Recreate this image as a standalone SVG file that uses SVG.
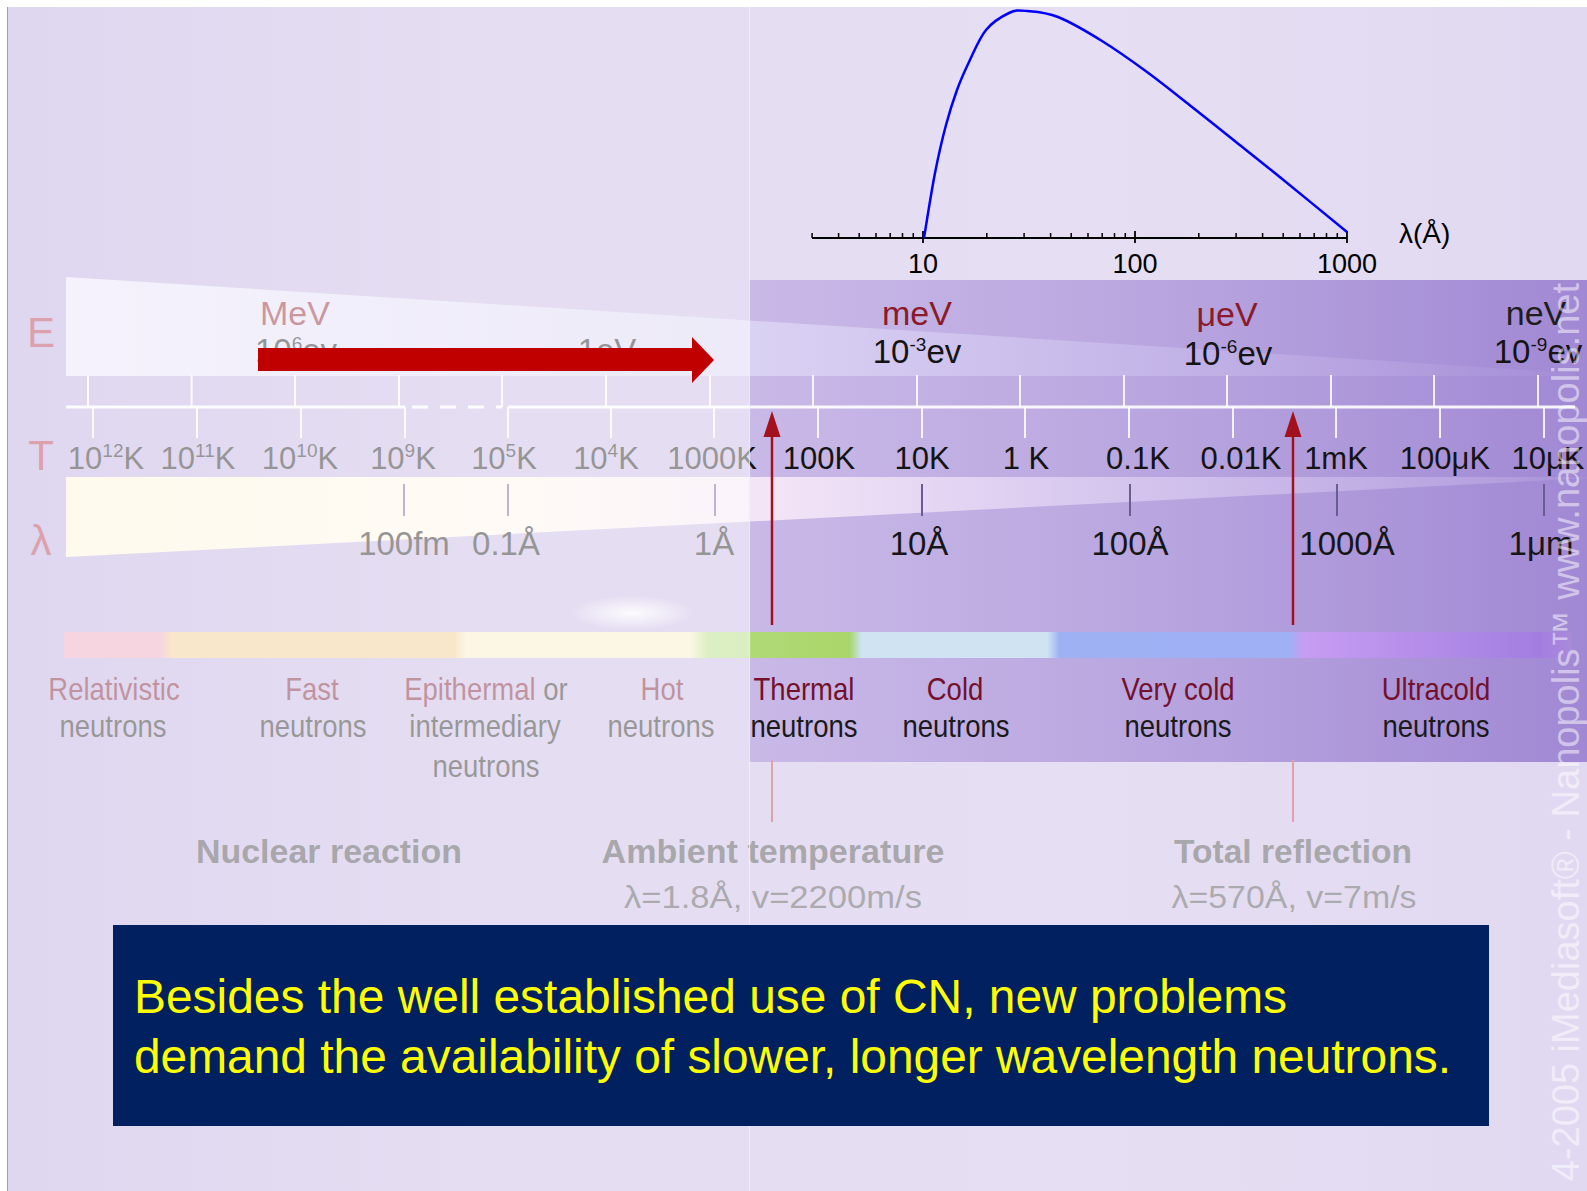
<svg xmlns="http://www.w3.org/2000/svg" width="1587" height="1191" viewBox="0 0 1587 1191">
<style>
text{font-family:"Liberation Sans",Arial,sans-serif}
.axl{font-size:42px;fill:#b03048;text-anchor:middle}
.tl{font-size:31px;fill:#141414;text-anchor:middle}
.ll{font-size:33px;fill:#161616;text-anchor:middle}
.en{font-size:34px;fill:#8b1a2a;text-anchor:middle}
.ev{font-size:33px;fill:#141414;text-anchor:middle}
.sup{font-size:19px}
.cat{font-size:32px;text-anchor:middle}
.red{fill:#74102c}
.blk{fill:#1a1a1a}
.botb{font-size:34px;font-weight:bold;fill:#3e3c46;text-anchor:middle}
.botr{font-size:32px;fill:#46444e;text-anchor:middle}
.tick{stroke:#fff;stroke-width:2;stroke-opacity:0.85}
.ltick{stroke:#6a5e90;stroke-width:2}
.ax{font-size:27px;fill:#000;text-anchor:middle}
</style>
<defs>
<linearGradient id="bgGrad" x1="0" y1="0" x2="1587" y2="0" gradientUnits="userSpaceOnUse">
<stop offset="0" stop-color="#b8a6dc"/><stop offset="0.3" stop-color="#c5b5e3"/><stop offset="0.7" stop-color="#c7b8e4"/><stop offset="1" stop-color="#bcaadf"/>
</linearGradient>
<linearGradient id="bandGrad" x1="749" y1="0" x2="1587" y2="0" gradientUnits="userSpaceOnUse">
<stop offset="0" stop-color="#c9b9e7"/><stop offset="0.5" stop-color="#b8a5df"/><stop offset="1" stop-color="#a188d4"/>
</linearGradient>
<linearGradient id="eWedge" x1="66" y1="0" x2="1575" y2="0" gradientUnits="userSpaceOnUse">
<stop offset="0" stop-color="#f4f2ff" stop-opacity="0.8"/><stop offset="0.46" stop-color="#eaeaff" stop-opacity="0.5"/><stop offset="0.75" stop-color="#e2dcff" stop-opacity="0.25"/><stop offset="1" stop-color="#dcd4ff" stop-opacity="0.05"/>
</linearGradient>
<linearGradient id="lWedge" x1="66" y1="0" x2="1590" y2="0" gradientUnits="userSpaceOnUse">
<stop offset="0" stop-color="#fff3d6" stop-opacity="1"/><stop offset="0.3" stop-color="#fff4ea" stop-opacity="1"/><stop offset="0.455" stop-color="#fff0fa" stop-opacity="0.8"/><stop offset="0.68" stop-color="#f6ecff" stop-opacity="0.45"/><stop offset="0.94" stop-color="#efe6ff" stop-opacity="0.2"/><stop offset="1" stop-color="#efe6ff" stop-opacity="0.05"/>
</linearGradient>
<linearGradient id="barGrad" x1="64" y1="0" x2="1572" y2="0" gradientUnits="userSpaceOnUse">
<stop offset="0" stop-color="#eaa3bc"/><stop offset="0.0637" stop-color="#eaa3bc"/><stop offset="0.0716" stop-color="#f0c98a"/><stop offset="0.259" stop-color="#f0c98a"/><stop offset="0.267" stop-color="#f7eec4"/><stop offset="0.415" stop-color="#f7eec4"/><stop offset="0.427" stop-color="#b2db7c"/><stop offset="0.521" stop-color="#a9d66a"/><stop offset="0.529" stop-color="#cfe3f3"/><stop offset="0.652" stop-color="#cfe3f3"/><stop offset="0.660" stop-color="#9eb2f3"/><stop offset="0.813" stop-color="#9fb0f4"/><stop offset="0.821" stop-color="#c79df3"/><stop offset="0.979" stop-color="#a37ee0"/><stop offset="1" stop-color="#a98ad8"/>
</linearGradient>
<radialGradient id="glow" cx="0.5" cy="0.5" r="0.5">
<stop offset="0" stop-color="#fff" stop-opacity="0.9"/><stop offset="1" stop-color="#fff" stop-opacity="0"/>
</radialGradient>
</defs>

<g id="background">
<rect x="0" y="0" width="1587" height="1191" fill="url(#bgGrad)"/>
<rect x="749" y="280" width="838" height="482" fill="url(#bandGrad)"/>
</g>

<g id="energy-row">
<polygon points="66,277 1575,373 1575,376 66,376" fill="url(#eWedge)"/>
<text class="axl" x="41" y="347">E</text>
<text class="en" x="295" y="325">MeV</text>
<text class="ev" x="296" y="362">10<tspan class="sup" dy="-12">6</tspan><tspan dy="12">ev</tspan></text>
<text class="ev" x="607" y="362">1eV</text>
<text class="en" x="917" y="325">meV</text>
<text class="ev" x="917" y="363">10<tspan class="sup" dy="-12">-3</tspan><tspan dy="12">ev</tspan></text>
<text class="en" x="1227" y="326">μeV</text>
<text class="ev" x="1228" y="365">10<tspan class="sup" dy="-12">-6</tspan><tspan dy="12">ev</tspan></text>
<text class="en" x="1536" y="325" style="fill:#1e1e1e">neV</text>
<text class="ev" x="1538" y="363">10<tspan class="sup" dy="-12">-9</tspan><tspan dy="12">ev</tspan></text>
</g>

<g id="scale-axis">
<path class="tick" d="M88,375V407M191.6,375V407M295,375V407M399,375V407M502,375V407M606,375V407M710,375V407M813,375V407M917,375V407M1020,375V407M1124,375V407M1227,375V407M1331,375V407M1434,375V407M1538,375V407"/>
<path class="tick" d="M93,407V438M197,407V438M301,407V438M405,407V438M508,407V438M611,407V438M714,407V438M818,407V438M922,407V438M1025,407V438M1129,407V438M1233,407V438M1336,407V438M1440,407V438M1544,407V438"/>
<path d="M66,407H405M508,407H1575" stroke="#fff" stroke-width="3" stroke-opacity="0.9"/>
<path d="M412,407H502" stroke="#fff" stroke-width="3" stroke-opacity="0.9" stroke-dasharray="16 12"/>
</g>

<g id="temperature-row">
<text class="axl" x="41" y="470">T</text>
<text class="tl" x="106" y="469">10<tspan class="sup" dy="-12">12</tspan><tspan dy="12">K</tspan></text>
<text class="tl" x="198" y="469">10<tspan class="sup" dy="-12">11</tspan><tspan dy="12">K</tspan></text>
<text class="tl" x="300" y="469">10<tspan class="sup" dy="-12">10</tspan><tspan dy="12">K</tspan></text>
<text class="tl" x="403" y="469">10<tspan class="sup" dy="-12">9</tspan><tspan dy="12">K</tspan></text>
<text class="tl" x="504" y="469">10<tspan class="sup" dy="-12">5</tspan><tspan dy="12">K</tspan></text>
<text class="tl" x="606" y="469">10<tspan class="sup" dy="-12">4</tspan><tspan dy="12">K</tspan></text>
<text class="tl" x="712" y="469">1000K</text>
<text class="tl" x="819" y="469">100K</text>
<text class="tl" x="922" y="469">10K</text>
<text class="tl" x="1026" y="469">1 K</text>
<text class="tl" x="1138" y="469">0.1K</text>
<text class="tl" x="1241" y="469">0.01K</text>
<text class="tl" x="1336" y="469">1mK</text>
<text class="tl" x="1445" y="469">100μK</text>
<text class="tl" x="1548" y="469">10μK</text>
</g>

<g id="wavelength-row">
<polygon points="66,477 1592,477 1592,478 66,557" fill="url(#lWedge)"/>
<path class="ltick" d="M404,484V516M508,484V516M715,484V516M922,484V516M1130,484V516M1337,484V516M1544,484V516"/>
<text class="axl" x="41" y="555">λ</text>
<text class="ll" x="404" y="555">100fm</text>
<text class="ll" x="506" y="555">0.1Å</text>
<text class="ll" x="714" y="555">1Å</text>
<text class="ll" x="919" y="555">10Å</text>
<text class="ll" x="1130" y="555">100Å</text>
<text class="ll" x="1347" y="555">1000Å</text>
<text class="ll" x="1541" y="555">1μm</text>
</g>

<g id="color-bar">
<ellipse cx="632" cy="613" rx="62" ry="17" fill="url(#glow)"/>
<rect x="64" y="632" width="1508" height="26" fill="url(#barGrad)"/>
</g>

<g id="categories">
<text class="cat red" transform="translate(114,700) scale(0.86,1)">Relativistic</text>
<text class="cat blk" transform="translate(113,737) scale(0.86,1)">neutrons</text>
<text class="cat red" transform="translate(312,700) scale(0.86,1)">Fast</text>
<text class="cat blk" transform="translate(313,737) scale(0.86,1)">neutrons</text>
<text class="cat" transform="translate(486,700) scale(0.86,1)"><tspan class="red">Epithermal</tspan><tspan class="blk"> or</tspan></text>
<text class="cat blk" transform="translate(485,737) scale(0.86,1)">intermediary</text>
<text class="cat blk" transform="translate(486,777) scale(0.86,1)">neutrons</text>
<text class="cat red" transform="translate(662,700) scale(0.86,1)">Hot</text>
<text class="cat blk" transform="translate(661,737) scale(0.86,1)">neutrons</text>
<text class="cat red" transform="translate(804,700) scale(0.86,1)">Thermal</text>
<text class="cat blk" transform="translate(804,737) scale(0.86,1)">neutrons</text>
<text class="cat red" transform="translate(955,700) scale(0.86,1)">Cold</text>
<text class="cat blk" transform="translate(956,737) scale(0.86,1)">neutrons</text>
<text class="cat red" transform="translate(1178,700) scale(0.86,1)">Very cold</text>
<text class="cat blk" transform="translate(1178,737) scale(0.86,1)">neutrons</text>
<text class="cat red" transform="translate(1436,700) scale(0.86,1)">Ultracold</text>
<text class="cat blk" transform="translate(1436,737) scale(0.86,1)">neutrons</text>
</g>

<g id="bottom-labels">
<text class="botb" x="329" y="863" textLength="266" lengthAdjust="spacingAndGlyphs">Nuclear reaction</text>
<text class="botb" x="773" y="863" textLength="343" lengthAdjust="spacingAndGlyphs">Ambient temperature</text>
<text class="botr" x="773" y="908" textLength="298" lengthAdjust="spacingAndGlyphs">λ=1.8Å, v=2200m/s</text>
<text class="botb" x="1293" y="863" textLength="238" lengthAdjust="spacingAndGlyphs">Total reflection</text>
<text class="botr" x="1294" y="908" textLength="245" lengthAdjust="spacingAndGlyphs">λ=570Å, v=7m/s</text>
</g>

<path id="fade-overlay" d="M0,0H1587V1191H0Z M749,280V762H1587V280Z" fill="#fff" fill-opacity="0.55" fill-rule="evenodd"/>
<g id="frame">
<rect x="0" y="0" width="1587" height="7" fill="#fff"/>
<rect x="0" y="0" width="7" height="1191" fill="#fff"/>
<line x1="7.5" y1="7" x2="7.5" y2="1191" stroke="#a393e0" stroke-width="1"/>
<line x1="749.5" y1="7" x2="749.5" y2="1191" stroke="#f4f0fb" stroke-width="1.2" stroke-opacity="0.8"/>
</g>

<g id="connectors">
<polygon id="big-arrow" points="258,348 692,348 692,337 714,360 692,383 692,371 258,371" fill="#c00000"/>
<line x1="772" y1="436" x2="772" y2="625" stroke="#a3101e" stroke-width="2.5"/>
<polygon points="772,411 763.5,437 780.5,437" fill="#a3101e"/>
<line x1="772" y1="760" x2="772" y2="822" stroke="#e0a0ac" stroke-width="2"/>
<line x1="1293" y1="436" x2="1293" y2="625" stroke="#a3101e" stroke-width="2.5"/>
<polygon points="1293,411 1284.5,437 1301.5,437" fill="#a3101e"/>
<line x1="1293" y1="760" x2="1293" y2="822" stroke="#e0a0ac" stroke-width="2"/>
</g>

<g id="spectrum">
<line x1="812" y1="238" x2="1347" y2="238" stroke="#000" stroke-width="2"/>
<path d="M812.1,233V238M838.6,233V238M859.2,233V238M876,233V238M890.2,233V238M902.5,233V238M913.3,233V238M986.8,233V238M1024.1,233V238M1050.6,233V238M1071.2,233V238M1088,233V238M1102.2,233V238M1114.5,233V238M1125.3,233V238M1198.8,233V238M1236.1,233V238M1262.6,233V238M1283.2,233V238M1300,233V238M1314.2,233V238M1326.5,233V238M1337.3,233V238" stroke="#000" stroke-width="1.5"/>
<path d="M923,231V243M1135,231V243M1347,231V243" stroke="#000" stroke-width="1.8"/>
<text class="ax" x="923" y="273">10</text>
<text class="ax" x="1135" y="273">100</text>
<text class="ax" x="1347" y="273">1000</text>
<text x="1399" y="243" style="font-size:28px;fill:#000">λ(Å)</text>
<path d="M924,238 C925.8,227.2 931.3,191.8 935,173 C938.7,154.2 942.3,138.8 946,125 C949.7,111.2 953.2,100.5 957,90 C960.8,79.5 964.2,72 969,62 C973.8,52 979.3,38.2 986,30 C992.7,21.8 1002.2,16.2 1009,13 C1015.8,9.8 1018.8,10.3 1027,11 C1035.2,11.7 1045.5,12 1058,17 C1070.5,22 1087.2,31.8 1102,41 C1116.8,50.2 1132,61 1147,72 C1162,83 1177.2,95.3 1192,107 C1206.8,118.7 1221.2,130.2 1236,142 C1250.8,153.8 1262.5,163 1281,178 C1299.5,193 1336,223 1347,232" fill="none" stroke="#0000ff" stroke-width="2.5"/>
</g>

<g id="caption">
<rect x="113" y="925" width="1376" height="201" fill="#002060"/>
<text x="134" y="1013" style="font-size:48px;fill:#ffff00" textLength="1153" lengthAdjust="spacingAndGlyphs">Besides the well established use of CN, new problems</text>
<text x="134" y="1073" style="font-size:48px;fill:#ffff00" textLength="1317" lengthAdjust="spacingAndGlyphs">demand the availability of slower, longer wavelength neutrons.</text>
</g>

<text id="watermark" transform="translate(1579,283) rotate(-90)" text-anchor="end" style="font-size:38px;fill:#fff;fill-opacity:0.5">4-2005 iMediasoft® - Nanopolis™ www.nanopolis.net</text>
</svg>
